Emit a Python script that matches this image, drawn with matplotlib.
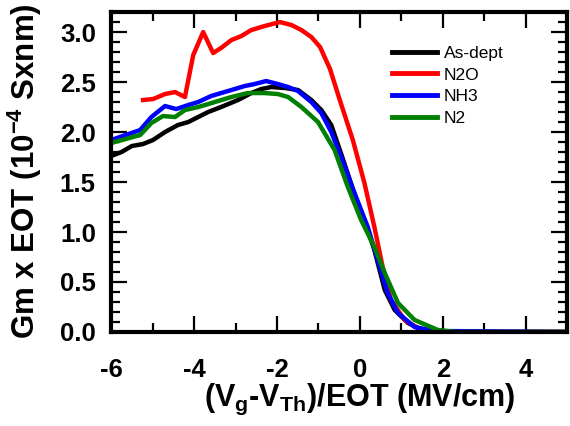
import matplotlib
matplotlib.use("Agg")
import matplotlib.pyplot as plt
from matplotlib.ticker import MultipleLocator, FormatStrFormatter

plt.rcParams['font.family'] = ['Liberation Sans', 'DejaVu Sans']
plt.rcParams['font.weight'] = 'bold'
plt.rcParams['axes.unicode_minus'] = False
plt.rcParams['mathtext.fontset'] = 'custom'
plt.rcParams['mathtext.rm'] = 'Liberation Sans:bold'
plt.rcParams['mathtext.it'] = 'Liberation Sans:bold'
plt.rcParams['mathtext.bf'] = 'Liberation Sans:bold'

# As-deposited
x_asdep = [-6.0, -5.75, -5.5, -5.23, -4.99, -4.7, -4.39, -4.14, -3.9, -3.66, -3.35, -2.94,
           -2.62, -2.38, -2.14, -1.8, -1.49, -1.17, -0.93, -0.69, -0.45, -0.13, 0.19, 0.35,
           0.6, 0.84, 1.16, 1.5, 1.8, 5.0]
y_asdep = [1.76, 1.80, 1.86, 1.88, 1.92, 2.00, 2.07, 2.10, 2.15, 2.20, 2.25, 2.32,
           2.39, 2.43, 2.45, 2.44, 2.42, 2.32, 2.22, 2.07, 1.78, 1.38, 1.02, 0.82,
           0.42, 0.22, 0.09, 0.02, 0.0, 0.0]

# N2O
x_n2o = [-5.23, -4.99, -4.7, -4.46, -4.22, -4.02, -3.78, -3.54, -3.35, -3.1, -2.86, -2.62,
         -2.3, -1.93, -1.65, -1.41, -1.17, -0.96, -0.72, -0.5, -0.17, 0.11, 0.35, 0.55,
         0.75, 1.08, 1.47, 1.8, 5.0]
y_n2o = [2.32, 2.33, 2.38, 2.40, 2.35, 2.77, 3.00, 2.79, 2.84, 2.92, 2.96, 3.02,
         3.06, 3.10, 3.07, 3.02, 2.95, 2.85, 2.63, 2.34, 1.92, 1.49, 1.05, 0.65,
         0.32, 0.12, 0.02, 0.0, 0.0]

# NH3
x_nh3 = [-6.0, -5.65, -5.3, -5.03, -4.7, -4.43, -4.14, -3.9, -3.59, -3.1, -2.78, -2.54,
         -2.26, -1.98, -1.73, -1.49, -1.17, -0.93, -0.69, -0.45, -0.13, 0.19, 0.43, 0.67,
         0.92, 1.32, 1.8, 5.0]
y_nh3 = [1.92, 1.97, 2.02, 2.15, 2.26, 2.23, 2.27, 2.30, 2.36, 2.42, 2.46, 2.48,
         2.51, 2.48, 2.45, 2.41, 2.30, 2.19, 2.00, 1.75, 1.39, 1.05, 0.72, 0.39,
         0.19, 0.05, 0.01, 0.0]

# N2
x_n2 = [-6.0, -5.65, -5.3, -5.03, -4.75, -4.46, -4.22, -3.9, -3.5, -3.1, -2.7, -2.3,
        -1.98, -1.73, -1.41, -1.01, -0.61, -0.29, 0.03, 0.35, 0.6, 0.92, 1.32, 1.88,
        2.3, 5.0]
y_n2 = [1.89, 1.93, 1.97, 2.09, 2.16, 2.15, 2.22, 2.25, 2.30, 2.35, 2.39, 2.39,
        2.38, 2.35, 2.25, 2.10, 1.82, 1.45, 1.12, 0.85, 0.59, 0.29, 0.12, 0.02,
        0.0, 0.0]

fig = plt.figure(figsize=(5.7, 4.26), dpi=100)
ax = fig.add_axes([0.195, 0.2207, 0.8, 0.751])

lw = 3.2
ax.plot(x_asdep, y_asdep, color='black', lw=lw, label='As-dept')
ax.plot(x_n2o, y_n2o, color='red', lw=lw, label='N2O')
ax.plot(x_nh3, y_nh3, color='blue', lw=lw, label='NH3')
ax.plot(x_n2, y_n2, color='green', lw=lw, label='N2')

ax.set_xlim(-6, 5)
ax.set_ylim(0, 3.2)
ax.xaxis.set_major_locator(MultipleLocator(2))
ax.xaxis.set_minor_locator(MultipleLocator(1))
ax.yaxis.set_major_locator(MultipleLocator(0.5))
ax.yaxis.set_minor_locator(MultipleLocator(0.1))
ax.yaxis.set_major_formatter(FormatStrFormatter('%.1f'))
ax.tick_params(which='both', direction='in', top=True, right=True, width=1.6,
               labelsize=18.5)
ax.tick_params(which='major', length=11.5)
ax.tick_params(which='minor', length=6.5)
ax.tick_params(axis='x', which='major', pad=19)
ax.tick_params(axis='y', which='major', pad=11)
for s in ax.spines.values():
    s.set_linewidth(3)

ax.set_xlabel(r'(V$_\mathrm{g}$-V$_\mathrm{Th}$)/EOT (MV/cm)', fontsize=22, fontweight='bold')
ax.xaxis.set_label_coords(0.546, -0.155)
ax.set_ylabel(r'Gm x EOT (10$^\mathrm{-4}$ Sxnm)', fontsize=22.5, fontweight='bold')
ax.yaxis.set_label_coords(-0.147, 0.503)

leg = ax.legend(loc='upper left', bbox_to_anchor=(0.615, 0.895), frameon=False,
                handlelength=2.6, handletextpad=0.4, labelspacing=0.38,
                borderpad=0, borderaxespad=0,
                prop={'weight': 'normal', 'size': 12.5})
for h in leg.get_lines():
    h.set_linewidth(3.5)

fig.savefig('out.png', dpi=100)
